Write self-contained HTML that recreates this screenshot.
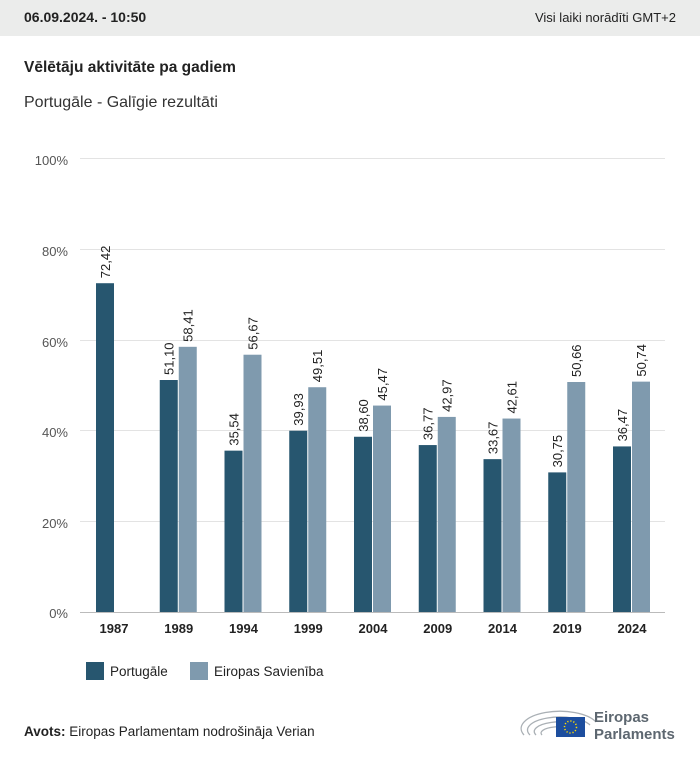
<!DOCTYPE html>
<html><head><meta charset="utf-8"><style>
body{margin:0;width:700px;height:757px;background:#fff;font-family:"Liberation Sans",sans-serif;overflow:hidden}
</style></head><body>
<svg width="700" height="757" xmlns="http://www.w3.org/2000/svg" font-family="Liberation Sans, sans-serif">
<rect x="0" y="0" width="700" height="36" fill="#ebeceb"/>
<text x="24" y="22" font-size="14" font-weight="bold" fill="#222">06.09.2024. - 10:50</text>
<text x="676" y="22" font-size="13" fill="#222" text-anchor="end">Visi laiki norādīti GMT+2</text>
<text x="24" y="72" font-size="15.5" font-weight="bold" fill="#222">Vēlētāju aktivitāte pa gadiem</text>
<text x="24" y="107" font-size="16" fill="#333">Portugāle - Galīgie rezultāti</text>
<g font-size="13" fill="#555" text-anchor="end">
<text x="68" y="165">100%</text><text x="68" y="256">80%</text><text x="68" y="347">60%</text>
<text x="68" y="437">40%</text><text x="68" y="528">20%</text><text x="68" y="618">0%</text>
</g>
<g stroke="#e3e3e3" stroke-width="1">
<line x1="80" x2="665" y1="158.5" y2="158.5"/><line x1="80" x2="665" y1="249.5" y2="249.5"/>
<line x1="80" x2="665" y1="340.5" y2="340.5"/><line x1="80" x2="665" y1="430.5" y2="430.5"/>
<line x1="80" x2="665" y1="521.5" y2="521.5"/>
</g>
<line x1="80" x2="665" y1="612.5" y2="612.5" stroke="#bbb"/>
<g id="bars"></g>
<g font-size="13" font-weight="bold" fill="#222" text-anchor="middle" id="years"></g>
<rect x="86" y="662" width="18" height="18" fill="#27566f"/>
<text x="110" y="676" font-size="13.5" fill="#222">Portugāle</text>
<rect x="190" y="662" width="18" height="18" fill="#7f9aae"/>
<text x="214" y="676" font-size="13.5" fill="#222">Eiropas Savienība</text>
<text x="24" y="736" font-size="13.5" fill="#222"><tspan font-weight="bold">Avots:</tspan> Eiropas Parlamentam nodrošināja Verian</text>
<g fill="none" stroke="#aab0b5" stroke-width="1.3">
<path d="M524 735 A36 16 0 0 1 596 722"/><path d="M530 735 A30 12 0 0 1 590 725"/>
<path d="M536 735 A24 9 0 0 1 584 728"/><path d="M542 735 A18 6 0 0 1 578 731"/>
</g>
<rect x="556" y="717" width="29" height="20" fill="#1d4e9e"/>
<circle cx="570.5" cy="727" r="6" fill="none" stroke="#ffdd00" stroke-width="1.5" stroke-dasharray="1.2 1.9"/>
<text x="594" y="722" font-size="15" font-weight="bold" fill="#5d6770">Eiropas</text>
<text x="594" y="739" font-size="15" font-weight="bold" fill="#5d6770">Parlaments</text>
</svg>
<script>
const years=["1987","1989","1994","1999","2004","2009","2014","2019","2024"];
const pt=[72.42,51.10,35.54,39.93,38.60,36.77,33.67,30.75,36.47];
const eu=[null,58.41,56.67,49.51,45.47,42.97,42.61,50.66,50.74];
const ns="http://www.w3.org/2000/svg";
const bars=document.getElementById("bars"),yg=document.getElementById("years");
function el(t,a,p,txt){const e=document.createElementNS(ns,t);for(const k in a)e.setAttribute(k,a[k]);if(txt)e.textContent=txt;p.appendChild(e);}
const base=612,sc=4.54;
years.forEach((y,i)=>{
 const c=114+64.75*i;
 el("text",{x:c,y:633},yg,y);
 function bar(x,v,col){const h=v*sc,top=base-h;
  el("rect",{x:x,y:top,width:18,height:h,fill:col},bars);
  const tx=x+9+5,ty=top-5;
  el("text",{x:tx,y:ty,transform:`rotate(-90 ${tx} ${ty})`,"font-size":"13",fill:"#222"},bars,v.toFixed(2).replace(".",","));}
 if(i==0)bar(96,pt[0],"#27566f");
 else{bar(c-19,pt[i],"#27566f");bar(c,eu[i],"#7f9aae");}
});
</script>
</body></html>
